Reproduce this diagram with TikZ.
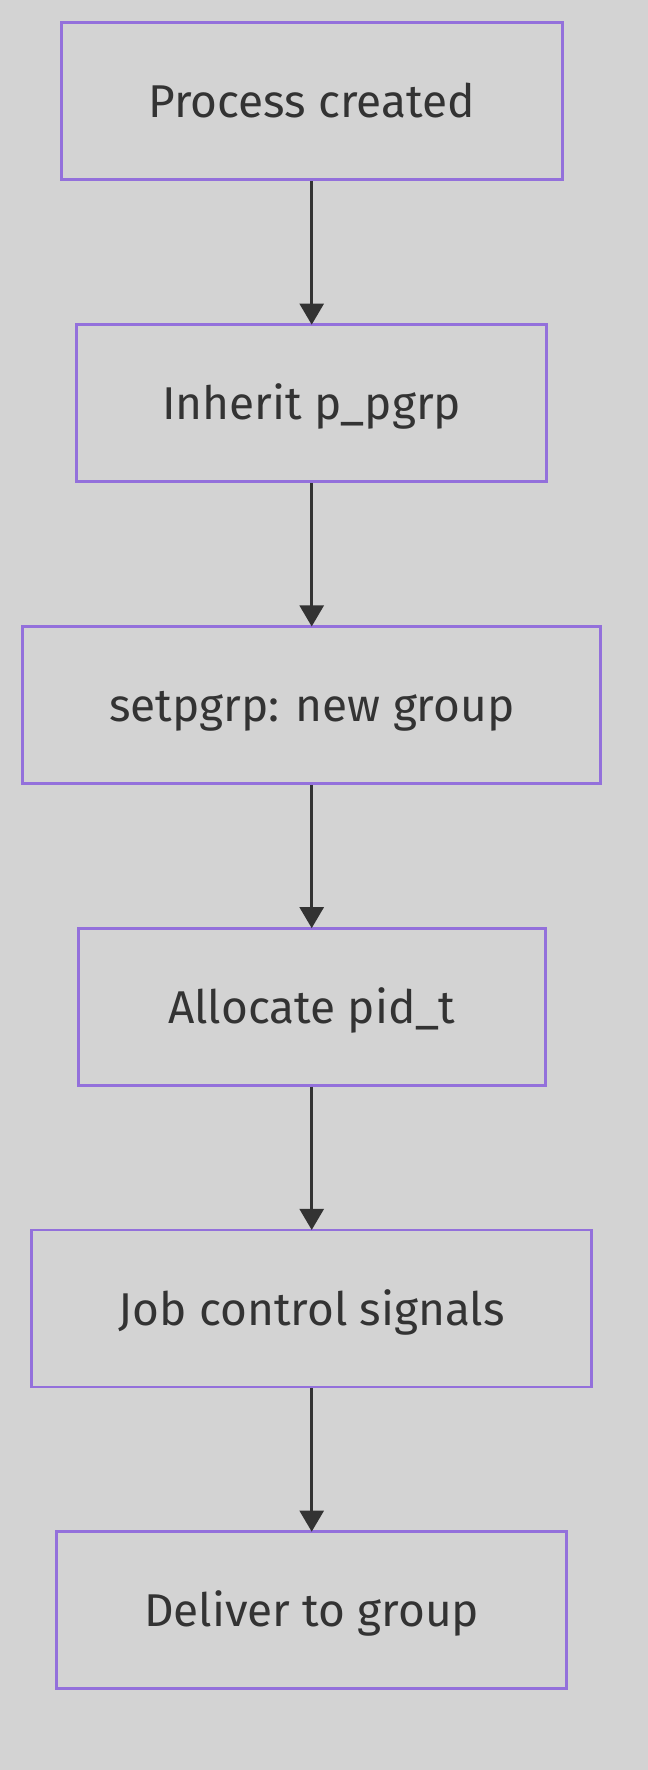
\documentclass[tikz,border=0pt]{standalone}
\usepackage{fontspec}
\setmainfont{Fira Sans}
\usetikzlibrary{arrows.meta}
\definecolor{bgc}{HTML}{D3D3D3}
\definecolor{boxline}{HTML}{9370DB}
\definecolor{ink}{HTML}{333333}
\tikzset{
  flowbox/.style={draw=boxline, line width=2.7bp, fill=bgc, rectangle,
    minimum height=157bp, inner sep=0pt, text=ink,
    font=\fontsize{46bp}{55bp}\selectfont, text height=33bp, text depth=0pt},
  flowarrow/.style={draw=ink, line width=2.6bp,
    -{Triangle[length=21bp,width=24bp]}, shorten >=-1.3bp}
}
\begin{document}
\begin{tikzpicture}[x=1bp,y=-1bp]
\fill[bgc] (0,0) rectangle (648,1770);
\useasboundingbox (0,0) rectangle (648,1770);
\node[flowbox, minimum width=501bp] (a) at (311.7,101.2) {Process created};
\node[flowbox, minimum width=470bp] (b) at (311.7,403.2) {Inherit p\_pgrp};
\node[flowbox, minimum width=578bp] (c) at (311.7,705.0) {setpgrp: new group};
\node[flowbox, minimum width=467bp] (d) at (311.7,1006.7) {Allocate pid\_t};
\node[flowbox, minimum width=560bp] (e) at (311.7,1308.5) {Job control signals};
\node[flowbox, minimum width=510bp] (f) at (311.7,1610.2) {Deliver to group};
\draw[flowarrow] (a) -- (b);
\draw[flowarrow] (b) -- (c);
\draw[flowarrow] (c) -- (d);
\draw[flowarrow] (d) -- (e);
\draw[flowarrow] (e) -- (f);
\end{tikzpicture}
\end{document}
